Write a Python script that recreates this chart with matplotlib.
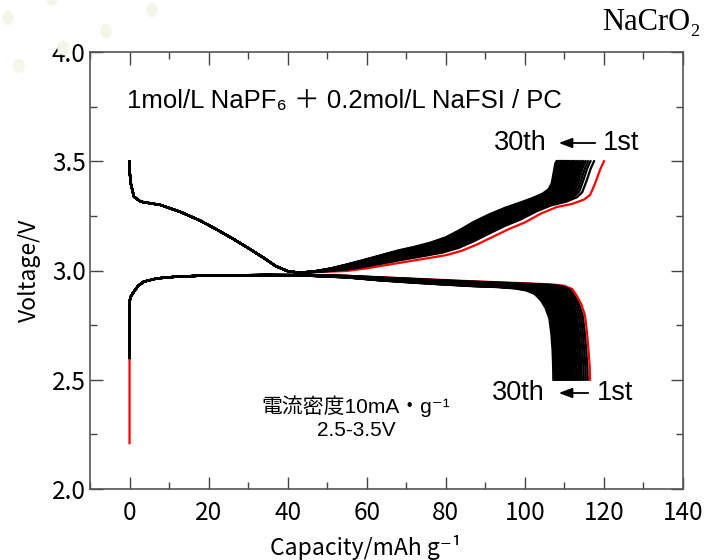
import matplotlib
matplotlib.use("Agg")
import matplotlib.pyplot as plt
from matplotlib.patches import Ellipse, FancyArrowPatch
import numpy as np

plt.rcParams['font.family'] = ['Noto Sans CJK JP', 'DejaVu Sans']
SANS = ['Liberation Sans', 'Noto Sans CJK JP', 'DejaVu Sans']

# ---------------- data ----------------
# upper branch (charge), 1st cycle and 30th cycle, corresponding points
charge_x_1st = [0, 0, 0.3, 1.1, 2.8, 7.8, 12.9, 17.9, 22, 26, 30, 34, 37, 40, 43,
                47, 51, 55, 60, 65, 70, 75, 80, 84, 88, 92, 96, 100, 104, 108,
                112, 115, 116.5, 117.8, 119, 120]
charge_v_1st = [3.5, 3.46, 3.40, 3.338, 3.315, 3.30, 3.268, 3.228, 3.188, 3.147, 3.103, 3.057, 3.02, 2.997, 2.99,
                2.992, 2.995, 2.998, 3.01, 3.025, 3.04, 3.055, 3.07, 3.09, 3.12, 3.155, 3.19, 3.22, 3.26, 3.29,
                3.305, 3.325, 3.346, 3.40, 3.46, 3.5]
charge_x_30th = [0, 0, 0.3, 1.1, 2.8, 7.8, 12.9, 17.9, 22, 26, 30, 34, 37, 40, 43,
                 47, 51, 55, 60, 64, 68, 72, 76, 80, 83.5, 87, 91, 95, 99, 102,
                 104.5, 106, 106.8, 107.3, 107.7, 108]
charge_v_30th = [3.5, 3.46, 3.40, 3.338, 3.315, 3.30, 3.268, 3.228, 3.188, 3.147, 3.103, 3.057, 3.02, 2.997, 2.99,
                 2.997, 3.01, 3.028, 3.052, 3.072, 3.092, 3.108, 3.127, 3.152, 3.185, 3.222, 3.257, 3.287, 3.312, 3.332,
                 3.352, 3.372, 3.40, 3.45, 3.49, 3.5]

# lower branch (discharge), 1st cycle and 30th cycle
dis_x_1st = [0, 0, 0.3, 1.1, 2.2, 3.6, 7, 12, 18, 25, 35, 45, 55, 65, 75, 85, 95,
             102, 107, 110, 112, 113.1, 114.3, 115.2, 115.7, 116.1, 116.4, 116.5]
dis_v_1st = [2.60, 2.857, 2.88, 2.903, 2.93, 2.949, 2.964, 2.972, 2.976, 2.978, 2.98, 2.98, 2.976, 2.968, 2.96, 2.952, 2.945,
             2.94, 2.936, 2.93, 2.915, 2.885, 2.845, 2.795, 2.72, 2.636, 2.56, 2.50]
dis_x_30th = [0, 0, 0.3, 1.1, 2.2, 3.6, 7, 12, 18, 25, 35, 45, 55, 63, 71, 79, 87,
              93, 97.5, 100.5, 102.5, 104.0, 105.2, 106.2, 106.7, 107.0, 107.15, 107.2]
dis_v_30th = [2.60, 2.857, 2.88, 2.903, 2.93, 2.949, 2.964, 2.972, 2.976, 2.978, 2.979, 2.976, 2.968, 2.955, 2.945, 2.936, 2.928,
              2.924, 2.918, 2.908, 2.892, 2.865, 2.83, 2.78, 2.71, 2.636, 2.56, 2.50]

# end capacities of each cycle (1..30)
charge_cap = [120.0, 117.5, 116.6, 116.0, 115.4, 114.9, 114.5, 114.1, 113.7, 113.3,
              113.0, 112.6, 112.3, 112.0, 111.7, 111.4, 111.1, 110.8, 110.5, 110.3,
              110.0, 109.8, 109.6, 109.4, 109.2, 109.0, 108.8, 108.6, 108.3, 108.0]
discharge_cap = [116.5, 115.9, 115.4, 114.9, 114.4, 114.0, 113.6, 113.2, 112.8, 112.4,
                 112.1, 111.8, 111.5, 111.2, 110.9, 110.6, 110.3, 110.0, 109.7, 109.5,
                 109.2, 109.0, 108.7, 108.5, 108.3, 108.1, 107.9, 107.7, 107.5, 107.2]
# start voltage of the lower branch for each cycle
discharge_start_v = [2.21] + [2.60] * 29

x_ticks = [0, 20, 40, 60, 80, 100, 120, 140]
y_ticks = [2.0, 2.5, 3.0, 3.5, 4.0]

# ---------------- figure ----------------
fig = plt.figure(figsize=(7.12, 5.6), dpi=100)
ax = fig.add_axes([90/712, 1-489/560, (683-90)/712, (489-52)/560])

# faint decorative dots top-left
for (px, py) in [(8, 18), (52, -1), (152, 10), (106, 31), (63, 48), (19, 66)]:
    fig.patches.append(Ellipse((px/712, 1-py/560), 10/712, 13/560,
                               transform=fig.transFigure, color='#f3f7e8', zorder=0))

def cycle_curve(x1, v1, x30, v30, w):
    x = (1-w)*np.asarray(x1) + w*np.asarray(x30)
    v = (1-w)*np.asarray(v1) + w*np.asarray(v30)
    return x, v

n = len(charge_cap)
for k in range(n):
    color = 'red' if k == 0 else 'black'
    z = 2 if k == 0 else 3
    wc = (charge_cap[0]-charge_cap[k])/(charge_cap[0]-charge_cap[-1])
    cx, cv = cycle_curve(charge_x_1st, charge_v_1st, charge_x_30th, charge_v_30th, wc)
    ax.plot(cx, cv, color=color, lw=1.6, zorder=z, solid_joinstyle='round')
    wd = (discharge_cap[0]-discharge_cap[k])/(discharge_cap[0]-discharge_cap[-1])
    dx, dv = cycle_curve(dis_x_1st, dis_v_1st, dis_x_30th, dis_v_30th, wd)
    dx = np.concatenate([[0], dx])
    dv = np.concatenate([[discharge_start_v[k]], dv])
    ax.plot(dx, dv, color=color, lw=1.6, zorder=z, solid_joinstyle='round')

ax.set_xlim(-10, 140)
ax.set_ylim(2.0, 4.0)
ax.set_xticks(x_ticks)
ax.set_yticks(y_ticks)
ax.set_yticklabels([f"{t:.1f}" for t in y_ticks])
ax.set_xticks(np.arange(-10, 141, 10), minor=True)
ax.set_yticks(np.arange(2.0, 4.01, 0.25), minor=True)
ax.tick_params(which='both', direction='in', top=True, right=True, colors='#444444',
               labelcolor='black', labelsize=17.5, width=1)
ax.tick_params(which='major', length=9)
ax.tick_params(which='minor', length=5)
ax.tick_params(axis='x', pad=8)
ax.tick_params(axis='y', pad=3)
for s in ax.spines.values():
    s.set_color('#555555')
    s.set_linewidth(1.2)

ax.set_xlabel("Capacity/mAh g⁻¹", fontsize=16.5, labelpad=6)
ax.xaxis.set_label_coords((366-90)/593, -0.105)
ax.set_ylabel("Voltage/V", fontsize=16.5, labelpad=8)

fig.text(127/712, 1-101/560, "1mol/L NaPF₆ ＋ 0.2mol/L NaFSI / PC", family=SANS,
         fontsize=18.5, va='center', ha='left')
fig.text(701/712, 1-22/560, "NaCrO₂", family=['Liberation Serif', 'DejaVu Serif'],
         fontsize=22, ha='right', va='center')

# cycle labels with arrows
for (y, x30, xa0, xa1, x1) in [(143, 494, 598, 556, 603), (393, 492, 591, 556, 597)]:
    fig.text(x30/712, 1-y/560, "30th", family=SANS, fontsize=19.5, ha='left', va='center')
    fig.text(x1/712, 1-y/560, "1st", family=SANS, fontsize=19.5, ha='left', va='center')
    fig.patches.append(FancyArrowPatch(
        (xa0/712, 1-y/560), (xa1/712, 1-y/560), transform=fig.transFigure,
        arrowstyle='-|>,head_length=8,head_width=3', color='black', lw=1.3,
        mutation_scale=1))

fig.text(356/712, 1-406/560, "電流密度10mA・g⁻¹", family=SANS, fontsize=15, ha='center', va='center')
fig.text(356/712, 1-430/560, "2.5-3.5V", family=SANS, fontsize=15, ha='center', va='center')

fig.savefig("out.png", dpi=100)
